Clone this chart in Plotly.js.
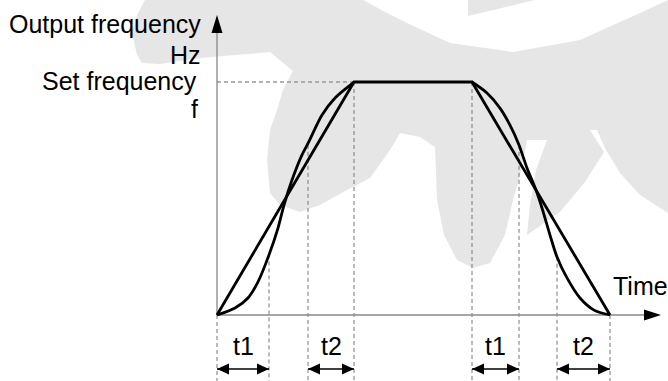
<!DOCTYPE html>
<html><head><meta charset="utf-8">
<script src="https://cdn.plot.ly/plotly-3.0.1.min.js"></script>
<style>html,body{margin:0;padding:0;background:#fff}</style>
</head><body><div id="chart" style="width:668px;height:381px"></div>
<script>
// ---- data (time in arbitrary units, frequency in % of set frequency) ----
const phaseTimes = [0, 52, 91, 137, 255, 302, 340, 393];
const phaseFreq  = [0, 26, 73, 100, 100, 73, 25, 0];
const setFreq = 100;
const linearTime = [0, 137, 255, 393];
const linearFreq = [0, 100, 100, 0];
const sAccTime = [0, 18, 31, 41, 52, 61, 67, 75, 85, 92, 105, 118, 131, 137];
const sAccFreq = [0, 3.0, 7.3, 14.2, 25.8, 37.3, 47.2, 57.9, 68.7, 74.5, 85.8, 93.1, 97.9, 100];
const sDecTime = [255, 270, 283, 293, 302, 310, 319, 325, 333, 340, 350, 363, 377, 393];
const sDecFreq = [100, 95.3, 88.8, 81.5, 73.0, 63.1, 53.6, 45.9, 34.3, 24.9, 15.9, 7.3, 2.1, 0];
const intervalLabels = ['t1', 't2', 't1', 't2'];
const intervalStart = [0, 91, 255, 340];
const intervalEnd   = [52, 137, 302, 393];
const yAxisLines = ['Output frequency', 'Hz', 'Set frequency', 'f'];
const xAxisLabel = 'Time';

// ---- layout geometry ----
const W = 668, H = 381;
const xr = [-217, 451];
const yr = [-28.33, 135.19];
const X = px => xr[0] + px * (xr[1] - xr[0]) / W;
const Y = py => yr[1] - py * (yr[1] - yr[0]) / H;
const PX = px => px / W, PY = py => 1 - py / H;
const font = {family: 'Liberation Sans, Arial, sans-serif', size: 25, color: '#000'};

function poly(pts) {
  return 'M' + pts.map(p => X(p[0]).toFixed(2) + ',' + Y(p[1]).toFixed(2)).join('L') + 'Z';
}
const gray = '#e6e6e6';
const watermarkMain = [
  [145,0],[363,0],[385,12],[407,23],[450,43],[513,52],[580,40],[640,13],[668,0],
  [668,213],[640,195],[620,173],[605,148],[597,130],[590,130],[604,152],[585,182],[560,212],[527,235],
  [530,205],[536,170],[547,140],[527,140],[520,175],[513,200],[505,235],[490,263],[473,268],[457,260],
  [444,235],[437,200],[435,147],[420,137],[400,133],[390,150],[370,178],[347,190],[320,205],[300,212],
  [280,205],[270,193],[267,160],[270,130],[277,110],[283,90],[293,71],[270,52],[200,58],[160,64],
  [142,63],[137,55],[132,33],[137,15]
];
const watermarkWedge = [[468,0],[468,16],[535,0]];

const shapes = [
  {type:'path', path: poly(watermarkMain), xref:'x', yref:'y', fillcolor: gray, line:{width:0}, layer:'below'},
  {type:'path', path: poly(watermarkWedge), xref:'x', yref:'y', fillcolor: gray, line:{width:0}, layer:'below'},
  // axis arrowheads
  {type:'path', path: poly([[217,15],[211.5,33],[222.5,33]]), xref:'x', yref:'y', fillcolor:'#000', line:{width:0}},
  {type:'path', path: poly([[661,315],[644,309.5],[644,320.5]]), xref:'x', yref:'y', fillcolor:'#000', line:{width:0}}
];

// double-arrow heads for intervals
const arrowPy = 369, headLen = 12, headHalf = 5.5;
intervalStart.forEach((s, i) => {
  const e = intervalEnd[i];
  const ya = Y(arrowPy), hh = headHalf * (yr[1]-yr[0]) / H, hl = headLen * (xr[1]-xr[0]) / W;
  shapes.push({type:'path', xref:'x', yref:'y', fillcolor:'#000', line:{width:0},
    path:`M${s},${ya}L${s+hl},${ya+hh}L${s+hl},${ya-hh}Z`});
  shapes.push({type:'path', xref:'x', yref:'y', fillcolor:'#000', line:{width:0},
    path:`M${e},${ya}L${e-hl},${ya+hh}L${e-hl},${ya-hh}Z`});
});

const traces = [];
// vertical dashed guides
const vx = [], vy = [];
phaseTimes.forEach((t, i) => { vx.push(t, t, null); vy.push(phaseFreq[i], yr[0], null); });
traces.push({x: vx, y: vy, mode:'lines', line:{color:'#777', width:1, dash:'4px,3px'}, hoverinfo:'skip'});
// horizontal dashed at set frequency
traces.push({x:[0, linearTime[1]], y:[setFreq, setFreq], mode:'lines', line:{color:'#999', width:1.3, dash:'4px,3px'}, hoverinfo:'skip'});
// axis lines
traces.push({x:[0, 0], y:[0, Y(33)], mode:'lines', line:{color:'#888', width:1.3}, hoverinfo:'skip'});
traces.push({x:[0, X(645)], y:[0, 0], mode:'lines', line:{color:'#888', width:1.3}, hoverinfo:'skip'});
// interval arrows shafts
const ax = [], ay = [];
intervalStart.forEach((s, i) => { ax.push(s, intervalEnd[i], null); ay.push(Y(arrowPy), Y(arrowPy), null); });
traces.push({x: ax, y: ay, mode:'lines', line:{color:'#000', width:1.5}, hoverinfo:'skip'});
// curves
traces.push({x: linearTime, y: linearFreq, mode:'lines', line:{color:'#000', width:2.8}, hoverinfo:'skip'});
traces.push({x: sAccTime, y: sAccFreq, mode:'lines', line:{color:'#000', width:2.8, shape:'spline', smoothing:0.8}, hoverinfo:'skip'});
traces.push({x: sDecTime, y: sDecFreq, mode:'lines', line:{color:'#000', width:2.8, shape:'spline', smoothing:0.8}, hoverinfo:'skip'});

const annotations = [];
const yLabelPos = [[203,24],[203,55],[199,81],[200,109]];
yAxisLines.forEach((t, i) => annotations.push({text:t, xref:'paper', yref:'paper', x:PX(yLabelPos[i][0]), y:PY(yLabelPos[i][1]), xanchor:'right', yanchor:'middle', showarrow:false, font}));
annotations.push({text: xAxisLabel, xref:'paper', yref:'paper', x:PX(611), y:PY(286), xanchor:'left', yanchor:'middle', showarrow:false, font});
intervalLabels.forEach((t, i) => annotations.push({text:t, xref:'x', yref:'paper', x:(intervalStart[i]+intervalEnd[i])/2, y:PY(346), xanchor:'center', yanchor:'middle', showarrow:false, font}));

const layout = {
  width: W, height: H, margin:{l:0, r:0, t:0, b:0, pad:0},
  paper_bgcolor:'#fff', plot_bgcolor:'#fff', showlegend:false,
  xaxis:{range:xr, visible:false, showgrid:false, zeroline:false, fixedrange:true},
  yaxis:{range:yr, visible:false, showgrid:false, zeroline:false, fixedrange:true},
  shapes, annotations
};
Plotly.newPlot('chart', traces, layout, {staticPlot:true, displayModeBar:false});
</script></body></html>
